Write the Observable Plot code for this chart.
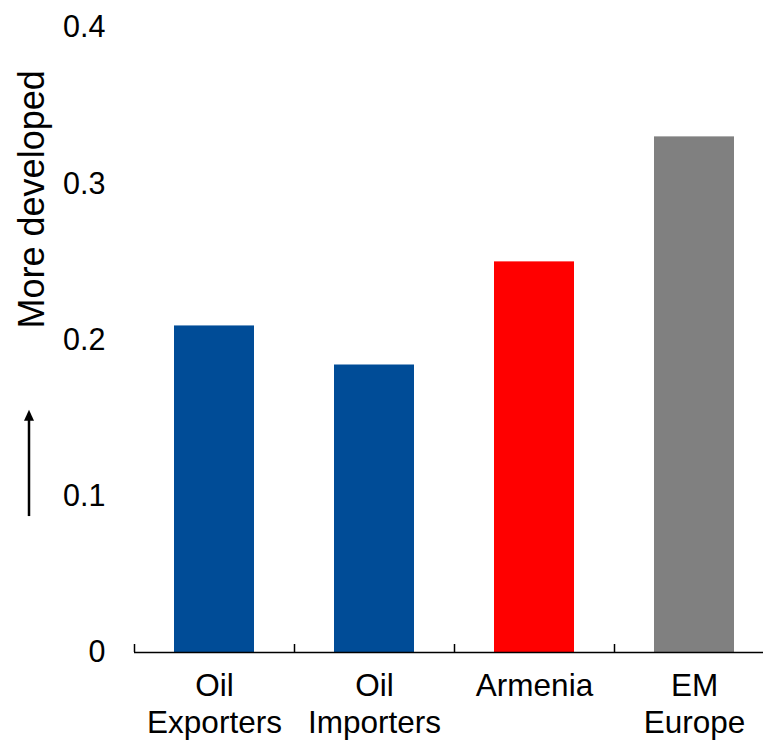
<!DOCTYPE html>
<html><head><meta charset="utf-8">
<script src="https://cdn.jsdelivr.net/npm/d3@7"></script>
<script src="https://cdn.jsdelivr.net/npm/@observablehq/plot@0.6"></script>
<style>
body{margin:0;background:#fff}
svg{font-family:"Liberation Sans",Arial,sans-serif}
</style>
</head><body><div id="chart"></div>
<script>
const categories = ["Oil Exporters", "Oil Importers", "Armenia", "EM Europe"];
const tickLabels = ["Oil\nExporters", "Oil\nImporters", "Armenia", "EM\nEurope"];
const values = [0.209, 0.184, 0.25, 0.33];
const yTicks = [0, 0.1, 0.2, 0.3, 0.4];
const yTickLabels = ["0", "0.1", "0.2", "0.3", "0.4"];
const yTitle = "More developed";

const data = categories.map((c, i) => ({category: c, value: values[i]}));

const arrowMark = (index, scales) => {
  const y = scales.y;
  const g = d3.create("svg:g");
  const x = 29, yA = y(0.087), yB = y(0.155);
  g.append("line").attr("x1", x).attr("x2", x).attr("y1", yA).attr("y2", yB + 8)
    .attr("stroke", "#000").attr("stroke-width", 2.5);
  g.append("path").attr("d", `M${x},${yB}L${x - 5},${yB + 11}L${x + 5},${yB + 11}Z`).attr("fill", "#000");
  return g.node();
};

const plot = Plot.plot({
  width: 763, height: 741,
  marginLeft: 134, marginRight: 0, marginTop: 27, marginBottom: 89,
  style: {fontFamily: "'Liberation Sans', Arial, sans-serif", fontSize: "30px", color: "#000", background: "#fff"},
  x: {type: "band", domain: categories, range: [134, 774], paddingInner: 0.5, paddingOuter: 0.25},
  y: {domain: [0, 0.4], range: [652, 27]},
  color: {domain: categories, range: ["#004c97", "#004c97", "#ff0000", "#808080"]},
  marks: [
    Plot.barY(data, {x: "category", y: "value", fill: "category"}),
    Plot.ruleY([0], {stroke: "#000", strokeWidth: 1.5}),
    Plot.ruleX(categories, {x: d => d, y1: 0, y2: 0, insetTop: -8, dx: -80, stroke: "#000", strokeWidth: 1.5}),
    Plot.axisX({tickSize: 0, tickPadding: 18, fontSize: 31.5, lineHeight: 1.16, label: null,
      tickFormat: c => tickLabels[categories.indexOf(c)]}),
    Plot.axisY({ticks: yTicks, tickSize: 0, tickPadding: 29, fontSize: 30.5, label: null,
      tickFormat: v => yTickLabels[yTicks.indexOf(v)]}),
    Plot.text([yTitle], {text: d => d, y: () => 0.29, frameAnchor: "left", rotate: -90, dx: -102,
      fontSize: 36, textAnchor: "middle", lineAnchor: "middle"}),
    arrowMark
  ]
});
document.getElementById("chart").append(plot);
</script>
</body></html>
